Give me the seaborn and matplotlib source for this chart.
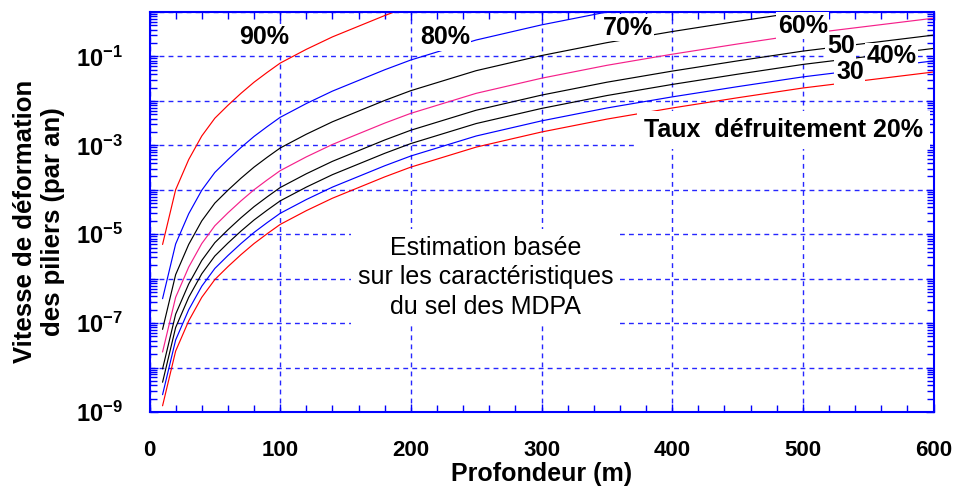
import numpy as np
import pandas as pd
import matplotlib
matplotlib.use("Agg")
import matplotlib.pyplot as plt
import seaborn as sns
from matplotlib.ticker import FixedLocator, FuncFormatter, LogLocator, NullFormatter, MultipleLocator

# ---------------- data (log10 of strain rate per year) ----------------
depth = [10, 20, 30, 40, 50, 60, 70, 80, 90, 100, 120, 140, 160, 180, 200,
         250, 300, 350, 400, 450, 500, 550, 600]

log_rate_90 = [-5.23, -4.00, -3.32, -2.79, -2.39, -2.10, -1.83, -1.58, -1.36, -1.15,
               -0.84, -0.56, -0.32, -0.08, 0.14]
log_rate_80 = [-6.45, -5.22, -4.54, -4.01, -3.61, -3.32, -3.05, -2.80, -2.58, -2.37,
               -2.06, -1.78, -1.54, -1.30, -1.08, -0.63, -0.29, 0.00, 0.25]
log_rate_70 = [-7.14, -5.91, -5.23, -4.70, -4.30, -4.01, -3.74, -3.49, -3.27, -3.06,
               -2.75, -2.47, -2.23, -1.99, -1.77, -1.32, -0.98, -0.69, -0.44, -0.21, 0.01, 0.19]
log_rate_60 = [-7.65, -6.42, -5.74, -5.21, -4.81, -4.52, -4.25, -4.00, -3.78, -3.57,
               -3.26, -2.98, -2.74, -2.50, -2.28, -1.83, -1.49, -1.20, -0.95, -0.72, -0.50, -0.32, -0.14]
log_rate_50 = [-8.03, -6.80, -6.12, -5.59, -5.19, -4.90, -4.63, -4.38, -4.16, -3.95,
               -3.64, -3.36, -3.12, -2.88, -2.66, -2.21, -1.87, -1.58, -1.33, -1.10, -0.88, -0.70, -0.52]
log_rate_40 = [-8.33, -7.10, -6.42, -5.89, -5.49, -5.20, -4.93, -4.68, -4.46, -4.25,
               -3.94, -3.66, -3.42, -3.18, -2.96, -2.51, -2.17, -1.88, -1.63, -1.40, -1.18, -1.00, -0.82]
log_rate_30 = [-8.61, -7.38, -6.70, -6.17, -5.77, -5.48, -5.21, -4.96, -4.74, -4.53,
               -4.22, -3.94, -3.70, -3.46, -3.24, -2.79, -2.45, -2.16, -1.91, -1.68, -1.46, -1.28, -1.10]
log_rate_20 = [-8.86, -7.63, -6.95, -6.42, -6.02, -5.73, -5.46, -5.21, -4.99, -4.78,
               -4.47, -4.19, -3.95, -3.71, -3.49, -3.04, -2.70, -2.41, -2.16, -1.93, -1.71, -1.53, -1.35]

series_names = ["90%", "80%", "70%", "60%", "50%", "40%", "30%", "20%"]
series_values = [log_rate_90, log_rate_80, log_rate_70, log_rate_60,
                 log_rate_50, log_rate_40, log_rate_30, log_rate_20]
series_colors = ["#ff0000", "#0000ff", "#000000", "#f5208a",
                 "#000000", "#000000", "#0000ff", "#ff0000"]

ytick_exponents = [-9, -8, -7, -6, -5, -4, -3, -2, -1, 0]
xticks = [0, 100, 200, 300, 400, 500, 600]

# curve labels: text, depth, rate
curve_labels = [("90%", 88, 0.267), ("80%", 226, 0.267), ("70%", 366, 0.438),
                ("60%", 500, 0.486), ("50", 529, 0.172), ("40%", 568, 0.102),
                ("30", 536, 0.0446)]

# ---------------- build table ----------------
rows = []
for name, vals in zip(series_names, series_values):
    for d, v in zip(depth, vals):
        rows.append({"depth": d, "rate": 10.0 ** v, "taux": name})
df = pd.DataFrame(rows)

sns.set_style("white")
plt.rcParams["font.family"] = ["Liberation Sans", "DejaVu Sans"]
plt.rcParams["mathtext.fontset"] = "custom"
plt.rcParams["mathtext.rm"] = "Liberation Sans"
plt.rcParams["mathtext.bf"] = "Liberation Sans:bold"
plt.rcParams["text.color"] = "black"
plt.rcParams["axes.labelcolor"] = "black"

fig = plt.figure(figsize=(9.59, 4.86), dpi=100)
ax = fig.add_axes([149.5 / 959, 1 - 412 / 486, (933.5 - 149.5) / 959, (412 - 12) / 486])

palette = dict(zip(series_names, series_colors))
sns.lineplot(data=df, x="depth", y="rate", hue="taux", hue_order=series_names,
             palette=palette, legend=False, ax=ax, linewidth=0.85, estimator=None, sort=False)

ax.set_yscale("log")
ax.set_xlim(0, 600)
ax.set_ylim(1e-9, 1e0)

blue = "#0000ff"
ax.set_axisbelow(True)
ax.yaxis.set_major_locator(FixedLocator([10.0 ** e for e in ytick_exponents]))
ax.yaxis.set_minor_locator(LogLocator(base=10, subs=np.arange(2, 10), numticks=20))
ax.yaxis.set_minor_formatter(NullFormatter())


def yfmt(v, pos):
    e = int(round(np.log10(v)))
    if e % 2 == 0:
        return ""
    return r"$\mathbf{10^{%d}}$" % e


ax.yaxis.set_major_formatter(FuncFormatter(yfmt))
ax.xaxis.set_major_locator(FixedLocator(xticks))
ax.xaxis.set_minor_locator(MultipleLocator(20))
ax.grid(True, which="major", color=blue, linestyle=(0, (3.5, 3)), linewidth=1.0, alpha=0.85)

for s in ax.spines.values():
    s.set_color(blue)
    s.set_linewidth(1.5)
    s.set_visible(True)

ax.tick_params(axis="both", which="both", direction="in", color=blue, labelcolor="black",
               top=True, right=True, bottom=True, left=True)
ax.tick_params(axis="both", which="major", length=6, width=1.0)
ax.tick_params(axis="both", which="minor", length=5, width=1.0)
ax.tick_params(axis="y", which="major", pad=19, labelsize=17)
ax.tick_params(axis="x", which="major", pad=20, labelsize=16)
for lab in ax.get_xticklabels():
    lab.set_fontweight("bold")

ax.set_xlabel("Profondeur (m)", fontsize=18, fontweight="bold", labelpad=1, color="black")
ax.set_ylabel("Vitesse de déformation\ndes piliers (par an)", fontsize=18.5,
              fontweight="bold", linespacing=1.2, color="black")
ax.yaxis.set_label_coords(-0.108, 0.477)

for txt, xd, yd in curve_labels:
    ax.text(xd, yd, txt, ha="center", va="center", fontsize=18, fontweight="bold",
            color="black",
            bbox=dict(facecolor="white", edgecolor="none", pad=1.0), zorder=5)

ax.text(485, 0.00219, "Taux  défruitement 20%", ha="center", va="center",
        fontsize=18, fontweight="bold", color="black",
        bbox=dict(facecolor="white", edgecolor="none", pad=5), zorder=5)

ax.text(257, 1.07e-6, "Estimation basée\nsur les caractéristiques\ndu sel des MDPA",
        ha="center", va="center", fontsize=18, linespacing=1.3, color="black",
        bbox=dict(facecolor="white", edgecolor="none", pad=5), zorder=5)

fig.savefig("out.png", dpi=100)
